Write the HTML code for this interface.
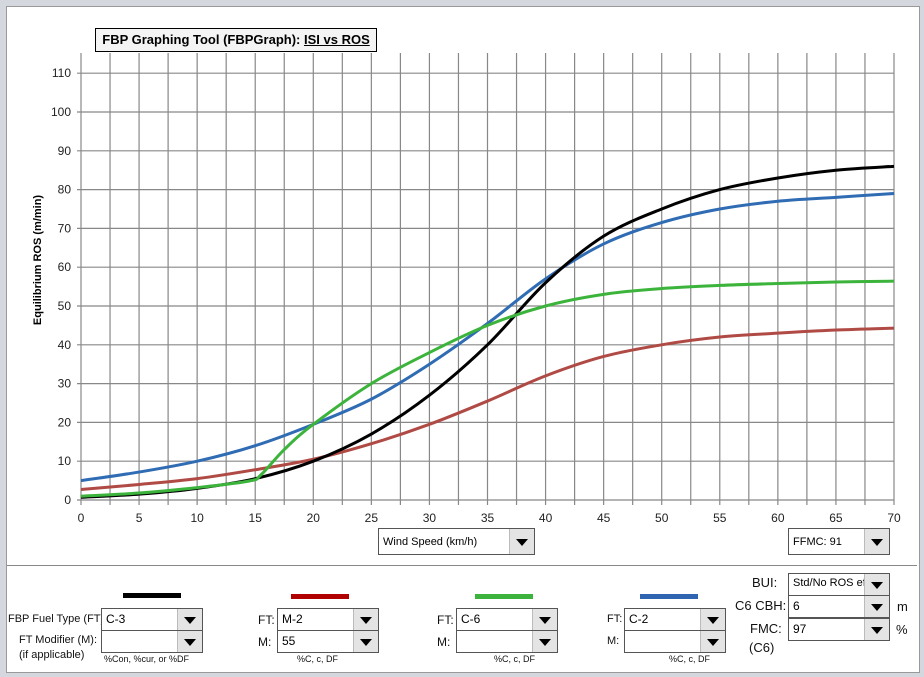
<!DOCTYPE html>
<html><head><meta charset="utf-8"><style>
body{margin:0;width:924px;height:677px;background:#d4d8de;font-family:"Liberation Sans",sans-serif;overflow:hidden;position:relative}
.abs{position:absolute}
.dd{position:absolute;background:#fff;border:1px solid #555;font-size:12px;box-sizing:border-box;padding:3px 4px;white-space:nowrap;overflow:hidden}
.dd .btn{position:absolute;right:0;top:0;bottom:0;width:24px;background:#e4e4e4;border-left:1px solid #bbb}
.dd .btn:after{content:"";position:absolute;left:6px;top:50%;margin-top:-3px;border-left:6px solid transparent;border-right:6px solid transparent;border-top:7px solid #000}
.lbl{position:absolute;font-size:12px;color:#111;white-space:nowrap}
.sm{position:absolute;font-size:9px;color:#111;white-space:nowrap}
.sw{position:absolute;height:5px;width:58px}
</style></head><body>
<div class="abs" style="left:6px;top:6px;width:912px;height:665px;background:#fff;border:1px solid #999"></div>
<div class="abs" style="left:7px;top:565px;width:910px;height:1px;background:#888"></div>
<svg class="abs" style="left:0;top:0" width="924" height="560">
<g id="grid"></g><g id="series"></g><g id="ticks"></g>
<text x="41" y="260" transform="rotate(-90 41 260)" text-anchor="middle" font-size="11" font-weight="bold" font-family="Liberation Sans">Equilibrium  ROS  (m/min)</text>
</svg>
<div class="abs" style="left:95px;top:28px;width:280px;height:22px;border:1px solid #000;background:#f4f4f4;font-size:13px;font-weight:bold;line-height:22px;text-align:center;white-space:nowrap">FBP Graphing Tool (FBPGraph): <u>ISI vs ROS</u></div>
<div class="dd" style="left:378px;top:528px;width:157px;height:27px;line-height:20px;font-size:11px">Wind Speed (km/h)<span class="btn"></span></div>
<div class="dd" style="left:788px;top:528px;width:102px;height:27px;line-height:20px;font-size:11px">FFMC: 91<span class="btn"></span></div>

<div class="sw" style="left:123px;top:593px;background:#000"></div>
<div class="sw" style="left:291px;top:594px;background:#b00000"></div>
<div class="sw" style="left:475px;top:594px;background:#3cb33c"></div>
<div class="sw" style="left:640px;top:594px;background:#2f64b0"></div>

<div class="lbl" style="left:8px;top:613px;font-size:11px">FBP Fuel Type (FT):</div>
<div class="lbl" style="left:19px;top:634px;font-size:11px">FT Modifier (M):</div>
<div class="lbl" style="left:19px;top:649px;font-size:11px">(if applicable)</div>
<div class="dd" style="left:101px;top:608px;width:102px;height:23px">C-3<span class="btn"></span></div>
<div class="dd" style="left:101px;top:630px;width:102px;height:23px"><span class="btn"></span></div>
<div class="sm" style="left:104px;top:654px">%Con, %cur,  or %DF</div>

<div class="lbl" style="left:258px;top:613px">FT:</div>
<div class="lbl" style="left:258px;top:635px">M:</div>
<div class="dd" style="left:277px;top:608px;width:102px;height:23px">M-2<span class="btn"></span></div>
<div class="dd" style="left:277px;top:630px;width:102px;height:23px">55<span class="btn"></span></div>
<div class="sm" style="left:297px;top:654px">%C, c, DF</div>

<div class="lbl" style="left:437px;top:613px">FT:</div>
<div class="lbl" style="left:437px;top:635px">M:</div>
<div class="dd" style="left:456px;top:608px;width:102px;height:23px">C-6<span class="btn"></span></div>
<div class="dd" style="left:456px;top:630px;width:102px;height:23px"><span class="btn"></span></div>
<div class="sm" style="left:494px;top:654px">%C, c, DF</div>

<div class="lbl" style="left:607px;top:613px;font-size:11px">FT:</div>
<div class="lbl" style="left:607px;top:635px;font-size:11px">M:</div>
<div class="dd" style="left:624px;top:608px;width:102px;height:23px">C-2<span class="btn"></span></div>
<div class="dd" style="left:624px;top:630px;width:102px;height:23px"><span class="btn"></span></div>
<div class="sm" style="left:669px;top:654px">%C, c, DF</div>

<div class="lbl" style="left:752px;top:575px;font-size:13px">BUI:</div>
<div class="lbl" style="left:735px;top:598px;font-size:13px">C6 CBH:</div>
<div class="lbl" style="left:750px;top:621px;font-size:13px">FMC:</div>
<div class="lbl" style="left:749px;top:640px;font-size:13px">(C6)</div>
<div class="dd" style="left:788px;top:573px;width:102px;height:23px;font-size:11px">Std/No ROS effi<span class="btn"></span></div>
<div class="dd" style="left:788px;top:595px;width:102px;height:23px">6<span class="btn"></span></div>
<div class="dd" style="left:788px;top:618px;width:102px;height:23px">97<span class="btn"></span></div>
<div class="lbl" style="left:897px;top:599px;font-size:13px">m</div>
<div class="lbl" style="left:896px;top:622px;font-size:13px">%</div>

<script>
const windSpeeds=[0,5,10,15,20,25,30,35,40,45,50,55,60,65,70];
const rosC3=[0.7,1.5,3,5.5,10,17,27,40,56,68,75,80,83,85,86];
const rosM2=[2.7,4,5.5,7.8,10.5,14.5,19.5,25.5,32,37,40,42,43,43.8,44.3];
const windC6=[0,5,10,14.5,15.5,17.5,20,25,30,35,40,45,50,55,60,65,70];
const rosC6=[1,1.8,3.2,4.9,6.5,13,19.5,30,38,45,50,53,54.5,55.3,55.8,56.2,56.4];
const rosC2=[5,7.2,10,14,19.5,26,35,45.5,57,66,71.5,75,77,78,79];
const xTicks=[0,5,10,15,20,25,30,35,40,45,50,55,60,65,70];
const yTicks=[0,10,20,30,40,50,60,70,80,90,100,110];
const NS="http://www.w3.org/2000/svg";
const X=v=>81+v*(813/70), Y=v=>500-v*3.88;
const grid=document.getElementById('grid'),tk=document.getElementById('ticks'),se=document.getElementById('series');
function mk(tag,a,p){const e=document.createElementNS(NS,tag);for(const k in a)e.setAttribute(k,a[k]);p.appendChild(e);return e;}
for(let v=0;v<=70;v+=2.5){const l=mk('line',{x1:X(v),x2:X(v),y1:53,y2:505,stroke:'#888','stroke-width':1.2},grid);

}
yTicks.forEach(v=>{const l=mk('line',{x1:77,x2:X(70),y1:Y(v),y2:Y(v),stroke:'#888','stroke-width':1.2},grid);


const t=mk('text',{x:71,y:Y(v)+4,'text-anchor':'end','font-size':12,'font-family':'Liberation Sans',fill:'#222'},tk);t.textContent=v;

});
xTicks.forEach(v=>{const t=mk('text',{x:X(v),y:522,'text-anchor':'middle','font-size':12,'font-family':'Liberation Sans',fill:'#222'},tk);t.textContent=v;

});
function path(xs,ys){const p=xs.map((x,i)=>[X(x),Y(ys[i])]);let d='M'+p[0][0]+','+p[0][1];
for(let i=0;i<p.length-1;i++){const p0=p[Math.max(0,i-1)],p1=p[i],p2=p[i+1],p3=p[Math.min(p.length-1,i+2)];
d+=' C'+(p1[0]+(p2[0]-p0[0])/6)+','+(p1[1]+(p2[1]-p0[1])/6)+' '+(p2[0]-(p3[0]-p1[0])/6)+','+(p2[1]-(p3[1]-p1[1])/6)+' '+p2[0]+','+p2[1];}return d;}
[['series-m2',windSpeeds,rosM2,'#b04a45'],['series-c2',windSpeeds,rosC2,'#2f6cb4'],['series-c3',windSpeeds,rosC3,'#000'],['series-c6',windC6,rosC6,'#3cb43c']].forEach(s=>{
const e=mk('path',{d:path(s[1],s[2]),fill:'none',stroke:s[3],'stroke-width':3},se);

});
</script>
</body></html>
